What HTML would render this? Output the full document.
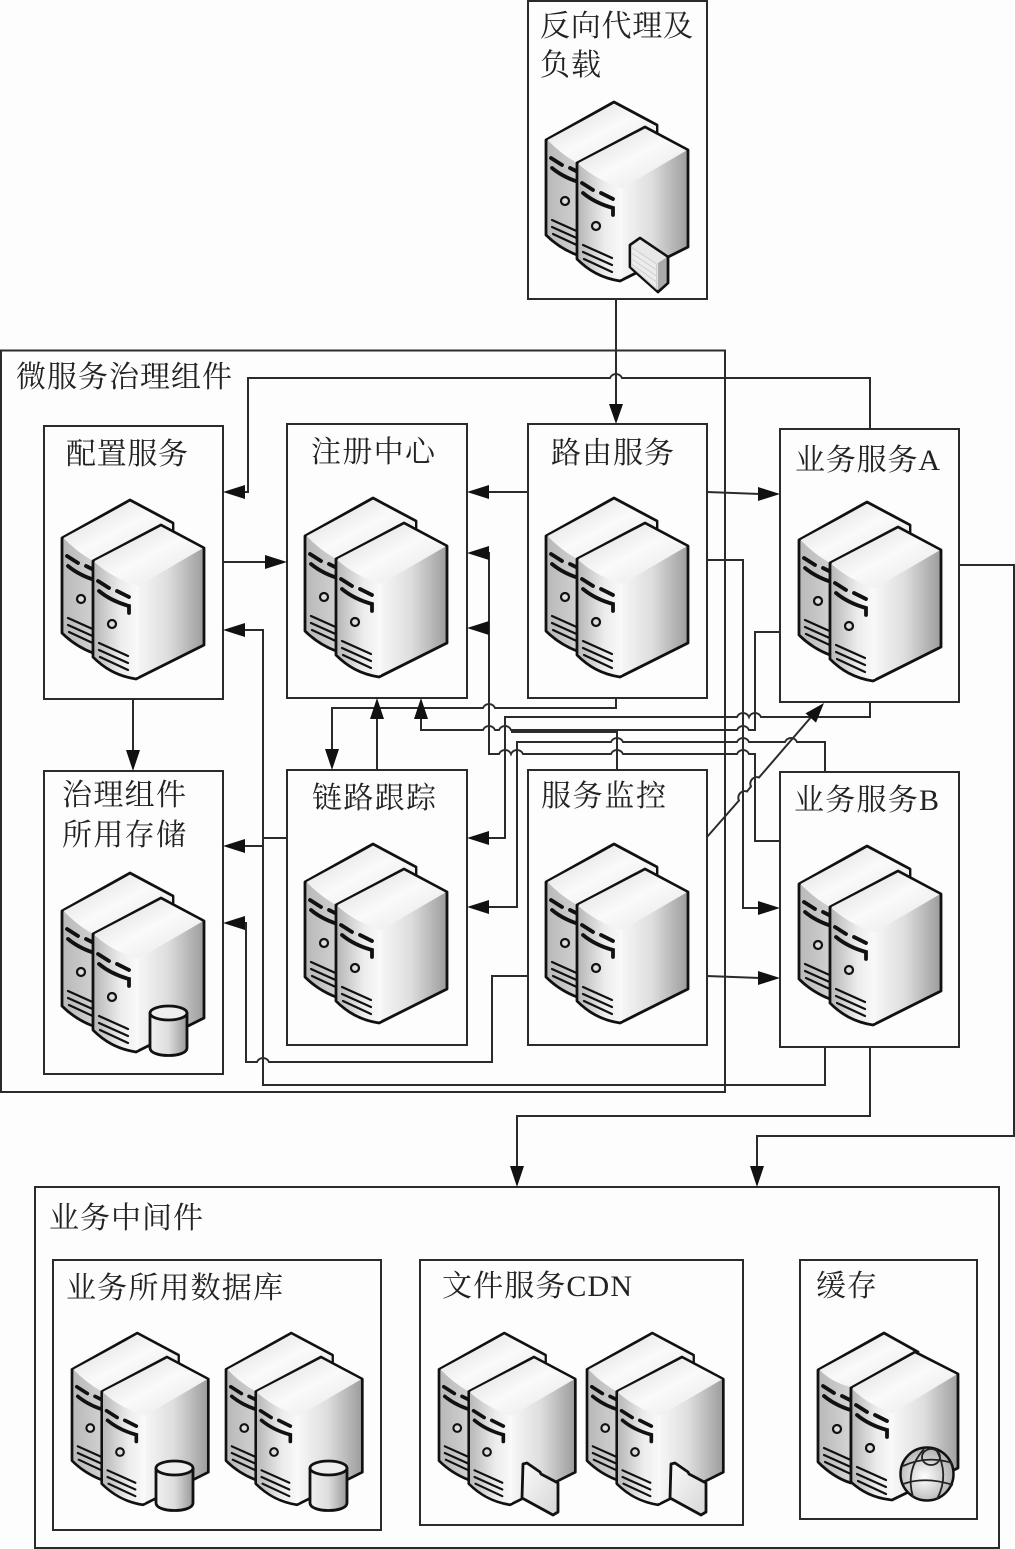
<!DOCTYPE html>
<html><head><meta charset="utf-8"><style>
html,body{margin:0;padding:0;background:#fdfdfd}
svg{display:block}
text{font-family:"Liberation Serif","Noto Serif CJK SC",serif;font-size:30px;fill:#222}
.b{fill:none;stroke:#2b2b2b;stroke-width:2}
.l{fill:none;stroke:#2b2b2b;stroke-width:2}
.a{fill:#111;stroke:none}
.s{stroke:#111;stroke-width:2.8;stroke-linejoin:round;stroke-linecap:round}
.d{fill:none;stroke:#111;stroke-width:2.200;stroke-linecap:round}
.t{fill:none;stroke:#111;stroke-width:3.800;stroke-linecap:round}
</style></head><body>
<svg xmlns="http://www.w3.org/2000/svg" width="1015" height="1549" viewBox="0 0 1015 1549">
<defs>
<linearGradient id="top" x1="0" y1="0" x2="1" y2="1"><stop offset="0" stop-color="#d8d8d8"/><stop offset=".5" stop-color="#fafafa"/><stop offset="1" stop-color="#e4e4e4"/></linearGradient>
<linearGradient id="right" gradientUnits="userSpaceOnUse" x1="76" y1="0" x2="142" y2="0"><stop offset="0" stop-color="#f6f6f6"/><stop offset=".45" stop-color="#dedede"/><stop offset="1" stop-color="#9c9c9c"/></linearGradient>
<linearGradient id="left" x1="0" y1="0" x2="1" y2="0"><stop offset="0" stop-color="#b8b8b8"/><stop offset=".6" stop-color="#ececec"/><stop offset="1" stop-color="#fafafa"/></linearGradient>
<linearGradient id="cyl" x1="0" y1="0" x2="1" y2="0"><stop offset="0" stop-color="#f0f0f0"/><stop offset=".5" stop-color="#dddddd"/><stop offset="1" stop-color="#999"/></linearGradient>
<linearGradient id="fold" x1="0" y1="0" x2="1" y2="1"><stop offset="0" stop-color="#fafafa"/><stop offset="1" stop-color="#d6d6d6"/></linearGradient>
<radialGradient id="glb" cx=".45" cy=".55" r=".6"><stop offset="0" stop-color="#fff"/><stop offset="1" stop-color="#aaa"/></radialGradient>
<g id="panel">
<path class="t" d="M5,56 L16,63 M24,66 L36,72"/>
<path class="t" d="M6,66 Q18,76 36,81 V88"/>
<circle cx="19" cy="99" r="4" fill="#ddd" stroke="#111" stroke-width="2.200"/>
<path class="d" d="M6,118 L35,131 M6,125 L35,138 M7,132 L35,145"/>
</g>
<g id="server">
<path class="s" fill="url(#left)" d="M0,38 L68,0 L111,23 V60 L31,153 C18,148 8,141 0,133 Z"/>
<path fill="url(#top)" d="M1.500,38 L68,2 L110,24 V30 L31,61 Q15,52 1.500,38 Z"/>
<use href="#panel"/>
<path class="s" fill="url(#right)" d="M31,61 L99,25 L142,48 V145 L74,179 C55,176 42,168 31,157 Z"/>
<path fill="url(#left)" d="M32.500,62 Q50,78 76,86 V177 C56,174 43,167 32.500,156 Z"/>
<path fill="url(#top)" d="M32.500,61 L99,26.500 L140.500,48.500 L76,86 Q50,78 32.500,61 Z"/>
<use href="#panel" x="31" y="25"/>
</g>
<g id="cylinder">
<path class="s" fill="url(#cyl)" d="M0,7 V42 C0,52 37,52 37,42 V7 Z"/>
<ellipse class="s" fill="#eee" cx="18.500" cy="7" rx="18.500" ry="7"/>
</g>
<g id="folder">
<path class="s" fill="url(#fold)" d="M523,1464 L527,1463 L540,1472 L541,1474 L558,1483 L558,1512 L553,1515 L522,1498 Z"/>
</g>
</defs>

<!-- boxes -->
<rect class="b" x="528" y="1" width="179" height="298"/>
<rect class="b" x="1" y="350.500" width="724" height="741.500"/>
<rect class="b" x="44" y="426" width="179" height="273"/>
<rect class="b" x="287" y="424" width="180" height="274"/>
<rect class="b" x="528" y="424" width="179" height="274"/>
<rect class="b" x="780" y="429" width="179" height="273"/>
<rect class="b" x="44" y="771" width="179" height="303"/>
<rect class="b" x="287" y="770" width="180" height="275"/>
<rect class="b" x="528" y="770" width="179" height="275"/>
<rect class="b" x="780" y="772" width="179" height="275"/>
<rect class="b" x="35" y="1187" width="964" height="361"/>
<rect class="b" x="53" y="1260" width="328" height="270"/>
<rect class="b" x="420" y="1260" width="323" height="265"/>
<rect class="b" x="800" y="1260" width="177" height="259"/>

<!-- servers -->
<use href="#server" x="546" y="102"/>
<use href="#server" x="62" y="500"/>
<use href="#server" x="305" y="498"/>
<use href="#server" x="546" y="498"/>
<use href="#server" x="799" y="502"/>
<use href="#server" x="62" y="873"/>
<use href="#server" x="305" y="844"/>
<use href="#server" x="546" y="844"/>
<use href="#server" x="799" y="846"/>
<use href="#server" transform="translate(72,1333) scale(.96)"/>
<use href="#server" transform="translate(226,1333) scale(.96)"/>
<use href="#server" transform="translate(439,1333) scale(.96)"/>
<use href="#server" transform="translate(587,1333) scale(.96)"/>

<!-- cache server -->
<g transform="translate(818,1333)">
<path class="s" fill="url(#left)" d="M0,37 L66,0 L100,19 L33,55 V150 C20,146 9,138 0,129 Z"/>
<path fill="url(#top)" d="M1.500,37 L66,2 L97,19 L33,54 Q15,50 1.500,37 Z"/>
<use href="#panel" x="0" y="-3"/>
<path class="s" fill="url(#right)" d="M33,55 L97,19 L140,41 V135 L74,167 C55,165 43,158 33,149 Z"/>
<path fill="url(#left)" d="M34.500,56 Q50,72 75,80 V165 C56,163 44,157 34.500,148 Z"/>
<path fill="url(#top)" d="M34.500,55 L97,20.500 L138.500,41.500 L75,80 Q50,72 34.500,55 Z"/>
<use href="#panel" x="33" y="16"/>
</g>

<!-- icons -->
<g transform="translate(546,102)">
<path class="s" fill="#e4e4e4" d="M84,143 L94,136 L122,155 V181 L112,190 L84,165 Z"/>
<path fill="#e8e8e8" d="M85,144 L94,137.500 L120,155 L112,161 Z"/>
<path fill="#ececec" stroke="#cfcfcf" stroke-width="1" d="M85.500,145.500 L110.500,162 V187 L85.500,164.500 Z M85.500,151 L110.500,168 M85.500,157 L110.500,174 M85.500,162 L110.500,180"/>
<path d="M112,161 L120.500,155.500 V180 L112,188 Z" fill="#aaa"/>
</g>
<use href="#cylinder" x="150" y="1006"/>
<use href="#cylinder" x="156" y="1461"/>
<use href="#cylinder" x="310" y="1461"/>
<use href="#folder"/>
<use href="#folder" x="148"/>
<g fill="none" stroke="#222" stroke-width="1.800">
<circle cx="927" cy="1474" r="26.500" fill="url(#glb)" stroke="#111" stroke-width="2.500"/>
<ellipse cx="931" cy="1457" rx="9" ry="8"/>
<path d="M903,1466 Q927,1455 952,1463 M903,1484 Q925,1476 953,1485 M913,1497 Q905,1470 924,1449 M937,1499 Q950,1475 936,1449"/>
</g>

<!-- connectors -->
<path class="l" d="M616,299 V406"/>
<path class="l" d="M235,492 H248 V378 H610 a6.500,6.500 0 0 1 12,0 H870 V429"/>
<path class="l" d="M487,492 H528"/>
<path class="l" d="M707,492 L760,494"/>
<path class="l" d="M223,562 L267,562"/>
<path class="l" d="M707,560 H743 V908 H760"/>
<path class="l" d="M332,750 V708 H483 a6.500,6.500 0 0 1 12,0 H616 V698"/>
<path class="l" d="M377,770 V718"/>
<path class="l" d="M480,838 H505 V717 H737 a6.500,6.500 0 0 1 12,0 a6.500,6.500 0 0 1 12,0 H870 V702"/>
<path class="l" d="M421,715 V730 H483 a6.500,6.500 0 0 1 12,0 H499 a6.500,6.500 0 0 1 12,0 H737 a6.500,6.500 0 0 1 12,0 H755 V632 H780"/>
<path class="l" d="M617,770 V732 H511"/>
<path class="l" d="M480,907 H517 V742 H611 a6.500,6.500 0 0 1 12,0 H737 a6.500,6.500 0 0 1 12,0 H785 a6.500,6.500 0 0 1 12,0 H825 V772"/>
<path class="l" d="M480,553 H489 V754 H499 a6.500,6.500 0 0 1 12,0 a6.500,6.500 0 0 1 12,0 H611 a6.500,6.500 0 0 1 12,0 H737 a6.500,6.500 0 0 1 12,0 H755 V841 H780"/>
<path class="l" d="M480,628 H489"/>
<path class="l" d="M707,837 L739,800.500 A6.500,6.500 0 0 1 747,791.500 L751,786.500 A6.500,6.500 0 0 1 759,777.500 L812,716"/>
<path class="l" d="M707,976 L760,978"/>
<path class="l" d="M235,923 H246 V1062 H257 a6.500,6.500 0 0 1 12,0 H492 V976 H528"/>
<path class="l" d="M235,630 H263 V1085 H825 V1047"/>
<path class="l" d="M287,838 H263 V846 H235"/>
<path class="l" d="M133,699 V750"/>
<path class="l" d="M959,565 H1014 V1136 H757 V1170"/>
<path class="l" d="M870,1047 V1116 H517 V1170"/>

<!-- arrowheads -->
<polygon class="a" points="616,424 609,404 623,404"/>
<polygon class="a" points="223,492 245,485 245,499"/>
<polygon class="a" points="467,492 489,485 489,499"/>
<polygon class="a" points="780,494 758,487 758,501"/>
<polygon class="a" points="287,562 265,555 265,569"/>
<polygon class="a" points="467,553 489,546 489,560"/>
<polygon class="a" points="467,628 489,621 489,635"/>
<polygon class="a" points="223,630 245,623 245,637"/>
<polygon class="a" points="377,698 370,719 384,719"/>
<polygon class="a" points="421,698 414,719 428,719"/>
<polygon class="a" points="332,770 325,749 339,749"/>
<polygon class="a" points="133,771 126,750 140,750"/>
<polygon class="a" points="223,846 245,839 245,853"/>
<polygon class="a" points="467,838 489,831 489,845"/>
<polygon class="a" points="467,907 489,900 489,914"/>
<polygon class="a" points="223,923 245,916 245,930"/>
<polygon class="a" points="780,908 758,901 758,915"/>
<polygon class="a" points="780,978 758,971 758,985"/>
<polygon class="a" points="824,703 816,722.600 805.500,713.400"/>
<polygon class="a" points="517,1187 510,1166 524,1166"/>
<polygon class="a" points="757,1187 750,1166 764,1166"/>

<!-- labels -->
<text x="540" y="36" textLength="153" lengthAdjust="spacing">反向代理及</text>
<text x="540" y="75" textLength="61" lengthAdjust="spacing">负载</text>
<text x="16" y="387" textLength="216" lengthAdjust="spacing">微服务治理组件</text>
<text x="66" y="464" textLength="122" lengthAdjust="spacing">配置服务</text>
<text x="311" y="462" textLength="124" lengthAdjust="spacing">注册中心</text>
<text x="551" y="463" textLength="123" lengthAdjust="spacing">路由服务</text>
<text x="795" y="470" textLength="145" lengthAdjust="spacing">业务服务A</text>
<text x="62" y="805" textLength="124" lengthAdjust="spacing">治理组件</text>
<text x="62" y="845" textLength="124" lengthAdjust="spacing">所用存储</text>
<text x="312" y="808" textLength="124" lengthAdjust="spacing">链路跟踪</text>
<text x="541" y="806" textLength="125" lengthAdjust="spacing">服务监控</text>
<text x="794" y="810" textLength="145" lengthAdjust="spacing">业务服务B</text>
<text x="49" y="1228" textLength="154" lengthAdjust="spacing">业务中间件</text>
<text x="66" y="1298" textLength="217" lengthAdjust="spacing">业务所用数据库</text>
<text x="442" y="1296" textLength="190" lengthAdjust="spacing">文件服务CDN</text>
<text x="816" y="1296" textLength="61" lengthAdjust="spacing">缓存</text>
</svg>
</body></html>
